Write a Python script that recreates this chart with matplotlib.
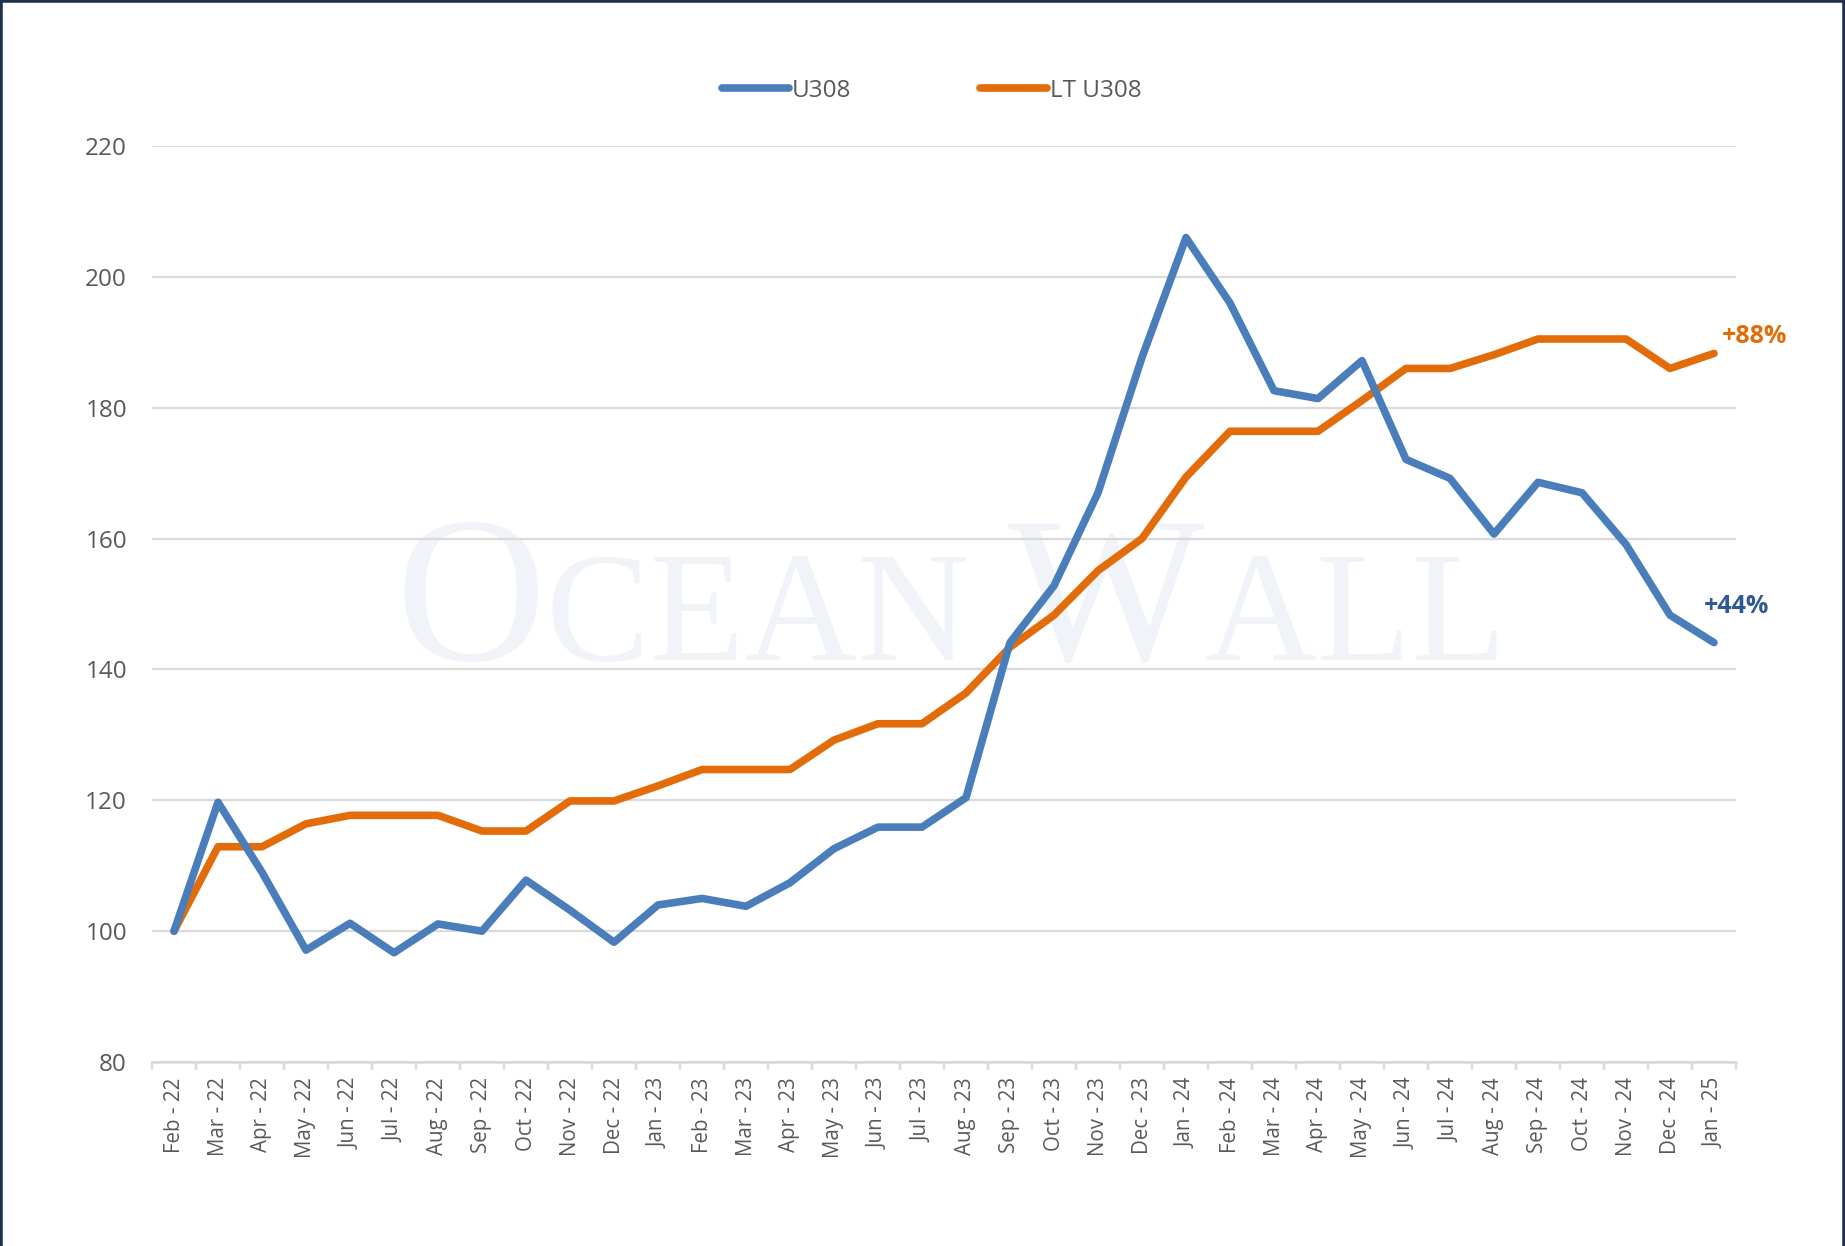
import matplotlib
matplotlib.use("Agg")
import matplotlib.pyplot as plt
from matplotlib.offsetbox import TextArea, HPacker, AnnotationBbox
from matplotlib.lines import Line2D

months = ["Feb - 22", "Mar - 22", "Apr - 22", "May - 22", "Jun - 22", "Jul - 22",
          "Aug - 22", "Sep - 22", "Oct - 22", "Nov - 22", "Dec - 22", "Jan - 23",
          "Feb - 23", "Mar - 23", "Apr - 23", "May - 23", "Jun - 23", "Jul - 23",
          "Aug - 23", "Sep - 23", "Oct - 23", "Nov - 23", "Dec - 23", "Jan - 24",
          "Feb - 24", "Mar - 24", "Apr - 24", "May - 24", "Jun - 24", "Jul - 24",
          "Aug - 24", "Sep - 24", "Oct - 24", "Nov - 24", "Dec - 24", "Jan - 25"]

u308 = [100, 119.7, 109, 97.1, 101.2, 96.7, 101.1, 100, 107.8, 103.2, 98.3, 104,
        105, 103.8, 107.4, 112.6, 115.9, 115.9, 120.4, 144.1, 152.8, 167, 187.7, 206,
        196, 182.6, 181.4, 187.2, 172.1, 169.2, 160.7, 168.6, 167, 159.1, 148.3, 144.1]

lt_u308 = [100, 112.9, 112.9, 116.4, 117.7, 117.7, 117.7, 115.3, 115.3, 119.9, 119.9, 122.2,
           124.7, 124.7, 124.7, 129.2, 131.7, 131.7, 136.4, 143.4, 148.3, 155.1, 160, 169.4,
           176.4, 176.4, 176.4, 181.1, 186, 186, 188.1, 190.5, 190.5, 190.5, 186, 188.3]

yticks = [80, 100, 120, 140, 160, 180, 200, 220]
series_names = ["U308", "LT U308"]
end_labels = ["+44%", "+88%"]

BLUE = "#4A7EBB"
ORANGE = "#E36C0A"
GREY_TXT = "#595959"
GRID = "#D9D9D9"

plt.rcParams['font.family'] = ['Open Sans', 'DejaVu Sans']

W, H = 1845, 1246
fig = plt.figure(figsize=(W / 100, H / 100), dpi=100)
fig.patch.set_facecolor("white")

left, right, top, bottom = 152, 1736, 146, 1062
ax = fig.add_axes([left / W, 1 - bottom / H, (right - left) / W, (bottom - top) / H])
ax.set_facecolor("none")

x = list(range(len(months)))
ax.plot(x, u308, color=BLUE, lw=5.5, solid_joinstyle="round", solid_capstyle="round", zorder=4)
ax.plot(x, lt_u308, color=ORANGE, lw=5.5, solid_joinstyle="round", solid_capstyle="round", zorder=3)

ax.set_xlim(-0.5, len(months) - 0.5)
ax.set_ylim(80, 220)
ax.set_yticks(yticks)
ax.set_yticklabels([str(v) for v in yticks], fontsize=17.5, color=GREY_TXT)
ax.tick_params(axis="y", length=0, pad=18)
ax.grid(axis="y", color=GRID, lw=1.6, zorder=1)
ax.set_axisbelow(True)

ax.set_xticks(x)
ax.set_xticklabels(months, rotation=90, fontsize=14.8, color=GREY_TXT)
ax.set_xticks([i - 0.5 for i in range(len(months) + 1)], minor=True)
ax.tick_params(axis="x", which="major", length=0, pad=11)
ax.tick_params(axis="x", which="minor", length=6, width=1.6, color=GRID, direction="out")

for s in ["top", "right", "left"]:
    ax.spines[s].set_visible(False)
ax.spines["bottom"].set_color(GRID)
ax.spines["bottom"].set_linewidth(1.8)
ax.spines["bottom"].set_zorder(2)

# end labels
ax.annotate(end_labels[0], xy=(x[-1], u308[-1]), xytext=(-7, 26), textcoords="offset points",
            ha="left", va="center", fontsize=18, fontweight="bold", color="#2F5A93")
ax.annotate(end_labels[1], xy=(x[-1], lt_u308[-1]), xytext=(6, 12), textcoords="offset points",
            ha="left", va="center", fontsize=18, fontweight="bold", color=ORANGE)

# watermark
wm_color = "#F0F3F7"
big = dict(fontsize=150, color=wm_color, family="Liberation Serif")
small = dict(fontsize=112, color=wm_color, family="Liberation Serif")
pack = HPacker(children=[TextArea("O", textprops=big), TextArea("CEAN ", textprops=small),
                         TextArea("W", textprops=big), TextArea("ALL", textprops=small)],
               align="baseline", pad=0, sep=0)
ab = AnnotationBbox(pack, (951 / W, 1 - 610 / H), xycoords="figure fraction",
                    frameon=False, box_alignment=(0.5, 0.5), zorder=0)
ax.add_artist(ab)

# legend
handles = [Line2D([0], [0], color=BLUE, lw=5.5, solid_capstyle="round"),
           Line2D([0], [0], color=ORANGE, lw=5.5, solid_capstyle="round")]
leg = fig.legend(handles, series_names, loc="center", bbox_to_anchor=(0.505, 1 - 91 / H),
                 ncol=2, frameon=False, fontsize=17.5, handlelength=2.75, handletextpad=0.12,
                 columnspacing=5.3)
for t in leg.get_texts():
    t.set_color(GREY_TXT)

# figure border (top, left, right)
border = "#1C3150"
fig.add_artist(Line2D([0, 0], [0, 1], transform=fig.transFigure, color=border, lw=4))
fig.add_artist(Line2D([1, 1], [0, 1], transform=fig.transFigure, color=border, lw=4))
fig.add_artist(Line2D([0, 1], [1, 1], transform=fig.transFigure, color=border, lw=4))

fig.savefig("out.png", dpi=100, facecolor="white")
